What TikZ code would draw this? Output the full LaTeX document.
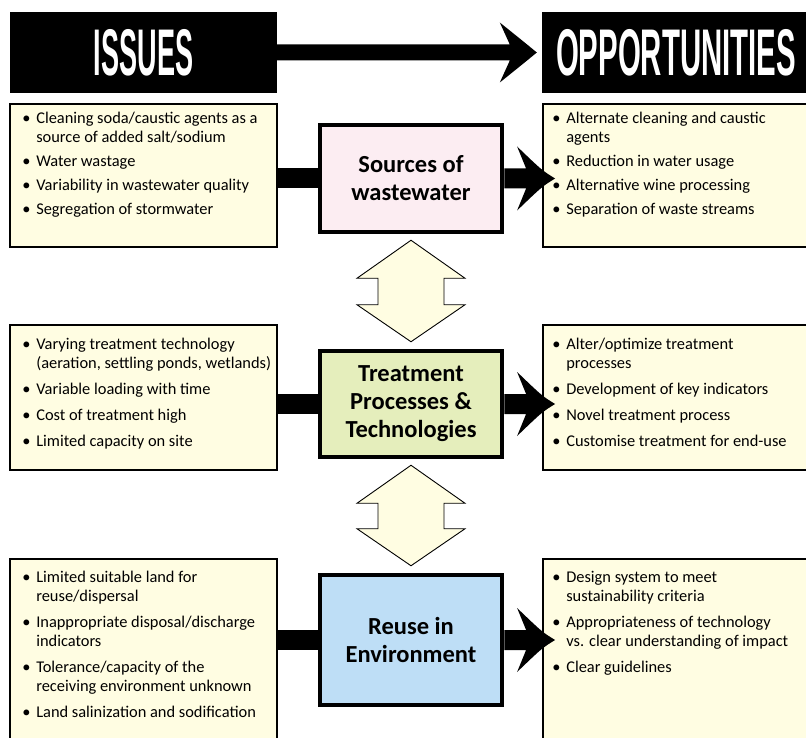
\documentclass[tikz,border=0pt]{standalone}
\usepackage{fontspec}
\setmainfont{Carlito}
\newfontfamily\headfont{Liberation Sans}
\usepackage{graphicx}
\usetikzlibrary{calc}
\definecolor{cream}{HTML}{FFFDE2}
\definecolor{pinkbox}{HTML}{FCEDF2}
\definecolor{greenbox}{HTML}{E5EEBC}
\definecolor{bluebox}{HTML}{BEDEF6}
\newcommand{\itm}[1]{\makebox[14pt][l]{\textbullet}#1}
\newcommand{\cnt}[1]{\hspace*{14pt}#1}
\begin{document}
\begin{tikzpicture}[x=1pt,y=-1pt,
  headbox/.style={fill=black,draw=none,minimum height=81pt,inner sep=0pt,text=white,
     font=\headfont\bfseries\fontsize{66}{66}\selectfont},
  sidebox/.style={fill=cream,draw=black,line width=1.8pt,minimum width=267pt,inner sep=0pt},
  centerbox/.style={draw=black,line width=4.5pt,minimum width=182pt,inner sep=0pt,
     align=center,font=\bfseries\fontsize{24.5}{28}\selectfont},
  listtext/.style={anchor=north west,inner sep=0pt,align=left,font=\fontsize{16.4}{19}\selectfont},
  dblarrow/.style={fill=cream,draw=black,line width=0.9pt,line join=miter},
  fatarrow/.style={fill=black,draw=none}
]
\useasboundingbox (0,0) rectangle (806,738);
\clip (0,0) rectangle (806,738);

% headers
\node[headbox,minimum width=267pt] (iss) at (143.5,52.5) {\scalebox{0.41}[1]{ISSUES}};
\node[headbox,minimum width=270pt] (opp) at (677,52.5) {\hspace*{-1pt}\scalebox{0.445}[1]{OPPORTUNITIES}\hspace*{1pt}};

% side boxes
\node[sidebox,minimum height=143pt] (l1) at (143.5,175.5) {};
\node[sidebox,minimum width=269pt,minimum height=143pt] (r1) at (677.5,175.5) {};
\node[sidebox,minimum height=145pt] (l2) at (143.5,397.5) {};
\node[sidebox,minimum width=269pt,minimum height=145pt] (r2) at (677.5,397.5) {};
\node[sidebox,minimum height=211pt] (l3) at (143.5,664.5) {};
\node[sidebox,minimum width=269pt,minimum height=211pt] (r3) at (677.5,664.5) {};

% center boxes
\node[centerbox,fill=pinkbox,minimum height=107pt] (c1) at (411,178.5) {Sources of\\wastewater};
\node[centerbox,fill=greenbox,minimum height=106pt] (c2) at (411,404) {Treatment\\Processes \&\\Technologies};
\node[centerbox,fill=bluebox,minimum height=130pt] (c3) at (411,640) {Reuse in\\Environment};

% list texts
\node[listtext] (tl1) at ($(l1.north west)+(13,9)$) {%
\itm{Cleaning soda/caustic agents as a}\\
\cnt{source of added salt/sodium}\\[5pt]
\itm{Water wastage}\\[5pt]
\itm{Variability in wastewater quality}\\[5pt]
\itm{Segregation of stormwater}};
\node[listtext] (tr1) at ($(r1.north west)+(10,9)$) {%
\itm{Alternate cleaning and caustic}\\
\cnt{agents}\\[5pt]
\itm{Reduction in water usage}\\[5pt]
\itm{Alternative wine processing}\\[5pt]
\itm{Separation of waste streams}};
\node[listtext] (tl2) at ($(l2.north west)+(13,14)$) {%
\itm{Varying treatment technology}\\
\cnt{(aeration, settling ponds, wetlands)}\\[7pt]
\itm{Variable loading with time}\\[7pt]
\itm{Cost of treatment high}\\[7pt]
\itm{Limited capacity on site}};
\node[listtext] (tr2) at ($(r2.north west)+(10,14)$) {%
\itm{Alter/optimize treatment}\\
\cnt{processes}\\[7pt]
\itm{Development of key indicators}\\[7pt]
\itm{Novel treatment process}\\[7pt]
\itm{Customise treatment for end-use}};
\node[listtext] (tl3) at ($(l3.north west)+(13,13)$) {%
\itm{Limited suitable land for}\\
\cnt{reuse/dispersal}\\[7pt]
\itm{Inappropriate disposal/discharge}\\
\cnt{indicators}\\[7pt]
\itm{Tolerance/capacity of the}\\
\cnt{receiving environment unknown}\\[7pt]
\itm{Land salinization and sodification}};
\node[listtext] (tr3) at ($(r3.north west)+(10,13)$) {%
\itm{Design system to meet}\\
\cnt{sustainability criteria}\\[7pt]
\itm{Appropriateness of technology}\\
\cnt{vs. clear understanding of impact}\\[7pt]
\itm{Clear guidelines}};

% header arrow
\coordinate (hs) at (iss.east);
\coordinate (ht) at (opp.west);
\fill[fatarrow] ($(hs)+(0,-8)$) -- ($(ht)+(-32,-8)$) -- ($(ht)+(-42,-30)$)
   .. controls ($(ht)+(-16.5,-9.5)$) .. ($(ht)+(-5,0)$)
   .. controls ($(ht)+(-16.5,9.5)$) .. ($(ht)+(-42,30)$)
   -- ($(ht)+(-32,8)$) -- ($(hs)+(0,8)$) -- cycle;

% left bars and right arrows
\foreach \l/\c/\r in {l1/c1/r1,l2/c2/r2,l3/c3/r3}{
  \fill[fatarrow] ($(\c.west -| \l.east)+(0,-10)$) rectangle ($(\c.west)+(0,10)$);
  \coordinate (t) at (\c.east -| \r.west);
  \fill[fatarrow] ($(\c.east)+(0,-10)$) -- ($(t)+(-16,-10)$) -- ($(t)+(-25,-32)$)
     .. controls ($(t)+(0,-8)$) .. ($(t)+(13,0)$)
     .. controls ($(t)+(0,8)$) .. ($(t)+(-25,32)$)
     -- ($(t)+(-16,10)$) -- ($(\c.east)+(0,10)$) -- cycle;
}

% double arrows
\foreach \u/\d in {c1/c2,c2/c3}{
  \coordinate (a) at ($(\u.south)+(0,6)$);
  \coordinate (b) at ($(\d.north)+(0,-7)$);
  \draw[dblarrow] (a) -- ($(a)+(54,38)$) -- ($(a)+(33,38)$) -- ($(b)+(33,-37)$)
     -- ($(b)+(54,-37)$) -- (b) -- ($(b)+(-54,-37)$) -- ($(b)+(-33,-37)$)
     -- ($(a)+(-33,38)$) -- ($(a)+(-54,38)$) -- cycle;
}
\end{tikzpicture}
\end{document}
